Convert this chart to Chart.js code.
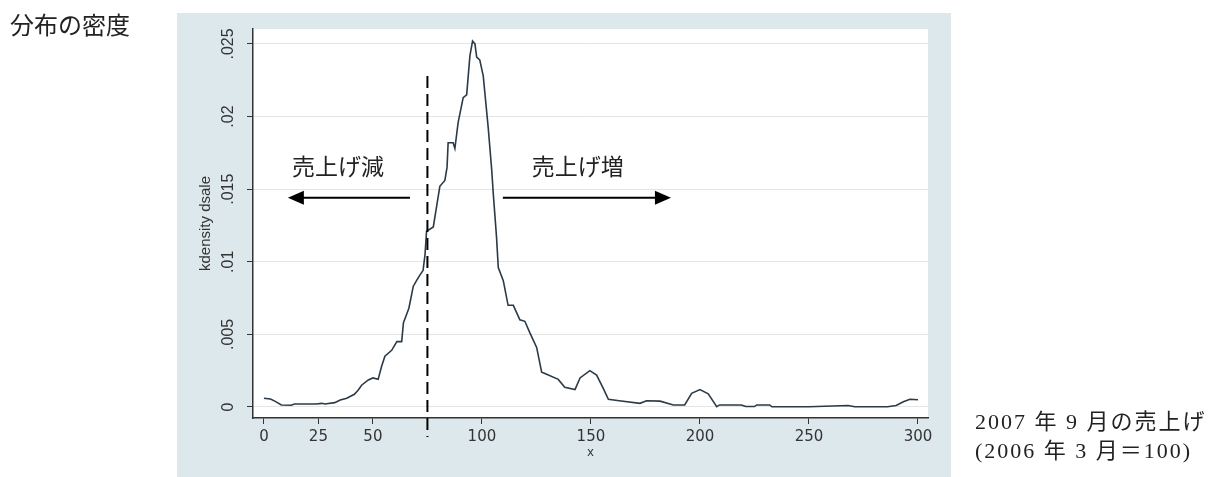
<!DOCTYPE html>
<html>
<head>
<meta charset="utf-8">
<script src="https://cdn.jsdelivr.net/npm/chart.js@4.4.0/dist/chart.umd.min.js"></script>
<style>
  body { margin: 0; background: #fff; }
  #wrap { position: relative; width: 1214px; height: 477px; }
</style>
</head>
<body>
<div id="wrap"><canvas id="kdChart" width="1214" height="477"></canvas></div>
<script>
// kernel density of sales index
const xValues = [
  0, 3, 5, 8, 12.5, 14, 24, 26.5, 28, 32.5, 35, 38, 41.5, 43.3, 44.8, 47.9, 50, 52.4, 54, 55.5,
  58.6, 61, 63.2, 64, 65, 66.5, 68.5, 70, 71.6, 73, 73.9, 74.6, 77.7, 79.2, 80.7, 83, 84, 84.5,
  86.8, 87.6, 89.1, 91.4, 93, 94.5, 95.7, 96.8, 97.6, 99, 100.6, 102.9, 104.5, 105.2, 106.7,
  107.5, 109.8, 112, 114.4, 117.4, 119.7, 122, 125.1, 127.4, 128.9, 135, 138, 142.7, 145, 149.5,
  152.6, 155.6, 158, 163, 172.5, 175.5, 181.7, 187.8, 193, 196.2, 200, 203.8, 207.7, 209, 219,
  221, 225, 226, 232, 233, 250, 268, 271, 286, 290, 293.3, 296.3, 300
];
const densityValues = [
  .0006, .00055, .0004, .00014, .00012, .0002, .0002, .00025, .0002, .0003, .00048, .0006, .00087, .00117, .0015, .00186, .002, .0019, .0028, .0035,
  .0039, .0045, .0045, .0058, .0062, .0068, .0083, .0087, .0091, .0094, .0105, .0121, .0124, .0138, .0152, .0156, .0165, .0182,
  .0182, .0178, .0196, .0213, .0215, .0242, .0252, .025, .0241, .0239, .0228, .0192, .0163, .0147, .0117,
  .0096, .0087, .007, .007, .006, .0059, .0051, .0041, .0024, .0023, .0019, .00135, .0012, .002, .0025,
  .0022, .0013, .00053, .00043, .00025, .00043, .0004, .00014, .00014, .00094, .0012, .0009, .00002, .00014, .00014,
  .00003, .00003, .00014, .00014, .00001, .00001, .0001, .00001, .00001, .0001, .00036, .00053, .0005
];
const xTicks = [0, 25, 50, 100, 150, 200, 250, 300];
const yTicks = [0, 0.005, 0.01, 0.015, 0.02, 0.025];
const yTickLabels = ['0', '.005', '.01', '.015', '.02', '.025'];

const cutoffX = 75;               // dashed line
const arrowLevel = 0.0144;
const leftArrow = [67, 11];
const rightArrow = [109.6, 186.7];
const labelLevel = 0.0166;
const leftLabel = ['売上げ減', 34];
const rightLabel = ['売上げ増', 144];

const panelColor = '#dde8ec';
const ink = '#333';

function drawArrow(ctx, x1, x2, yy) {
  const dir = Math.sign(x2 - x1);
  ctx.beginPath();
  ctx.moveTo(x1, yy);
  ctx.lineTo(x2 - dir * 12, yy);
  ctx.stroke();
  ctx.beginPath();
  ctx.moveTo(x2, yy);
  ctx.lineTo(x2 - dir * 16, yy - 7);
  ctx.lineTo(x2 - dir * 16, yy + 7);
  ctx.closePath();
  ctx.fill();
}

const decor = {
  id: 'decor',
  beforeDraw(chart) {
    const ctx = chart.ctx, a = chart.chartArea;
    ctx.save();
    ctx.fillStyle = panelColor;
    ctx.fillRect(177, 13, 774, 464);
    ctx.fillStyle = '#fff';
    ctx.fillRect(a.left, a.top, a.right - a.left, a.bottom - a.top);
    ctx.restore();
  },
  afterDraw(chart) {
    const ctx = chart.ctx, sx = chart.scales.x, sy = chart.scales.y;
    ctx.save();
    // cut-off line
    ctx.strokeStyle = '#000';
    ctx.lineWidth = 2;
    ctx.setLineDash([12, 6]);
    const cx = sx.getPixelForValue(cutoffX);
    ctx.beginPath();
    ctx.moveTo(cx, sy.getPixelForValue(0.0228));
    ctx.lineTo(cx, sy.getPixelForValue(-0.00206));
    ctx.stroke();
    ctx.setLineDash([]);

    // arrows
    ctx.fillStyle = '#000';
    const ay = sy.getPixelForValue(arrowLevel);
    drawArrow(ctx, sx.getPixelForValue(leftArrow[0]), sx.getPixelForValue(leftArrow[1]), ay);
    drawArrow(ctx, sx.getPixelForValue(rightArrow[0]), sx.getPixelForValue(rightArrow[1]), ay);

    // labels
    ctx.fillStyle = '#222';
    ctx.font = '23px "Noto Sans CJK JP"';
    ctx.textAlign = 'center';
    ctx.textBaseline = 'middle';
    const ly = sy.getPixelForValue(labelLevel);
    ctx.fillText(leftLabel[0], sx.getPixelForValue(leftLabel[1]), ly);
    ctx.fillText(rightLabel[0], sx.getPixelForValue(rightLabel[1]), ly);

    // page texts
    ctx.textAlign = 'left';
    ctx.font = '24px "Liberation Serif", "Noto Sans CJK JP"';
    ctx.fillText('分布の密度', 10, 28);
    ctx.font = '22px "Liberation Serif", "Noto Sans CJK JP"';
    ctx.letterSpacing = '2px';
    ctx.fillText('2007 年 9 月の売上げ', 975, 423);
    ctx.fillText('(2006 年 3 月＝100)', 975, 452);
    ctx.restore();
  }
};

const points = xValues.map((x, i) => ({ x: x, y: densityValues[i] }));

new Chart(document.getElementById('kdChart'), {
  type: 'line',
  data: {
    datasets: [{
      data: points,
      borderColor: '#2b3a47',
      borderWidth: 1.6,
      pointRadius: 0,
      tension: 0,
      fill: false
    }]
  },
  options: {
    responsive: false,
    animation: false,
    layout: { padding: { left: 177, top: 29, right: 286, bottom: 0 } },
    plugins: { legend: { display: false }, tooltip: { enabled: false } },
    scales: {
      x: {
        type: 'linear',
        min: -5,
        max: 304.6,
        afterBuildTicks: s => { s.ticks = xTicks.map(v => ({ value: v })); },
        afterFit: s => { s.height = 59; },
        grid: { drawOnChartArea: false, tickLength: 6, tickColor: ink },
        border: { color: ink, width: 1.5 },
        ticks: { font: { family: 'DejaVu Sans', size: 15 }, color: ink, padding: 4, maxRotation: 0, autoSkip: false },
        title: { display: true, text: 'x', color: ink, font: { family: 'Liberation Sans', size: 13 }, padding: { top: 0, bottom: 17 } }
      },
      y: {
        min: -0.00076,
        max: 0.02603,
        afterBuildTicks: s => { s.ticks = yTicks.map(v => ({ value: v })); },
        afterFit: s => { s.width = 76; },
        grid: { color: '#e4e4e4', tickLength: 6, tickColor: ink },
        border: { color: ink, width: 1.5 },
        ticks: {
          callback: (v, i) => yTickLabels[i],
          minRotation: 90, maxRotation: 90, crossAlign: 'center', padding: 3,
          font: { family: 'Liberation Sans', size: 16 }, color: ink, autoSkip: false
        },
        title: { display: true, text: 'kdensity dsale', color: ink, font: { family: 'Liberation Sans', size: 15 }, padding: { top: 20, bottom: 0 } }
      }
    }
  },
  plugins: [decor]
});
</script>
</body>
</html>
